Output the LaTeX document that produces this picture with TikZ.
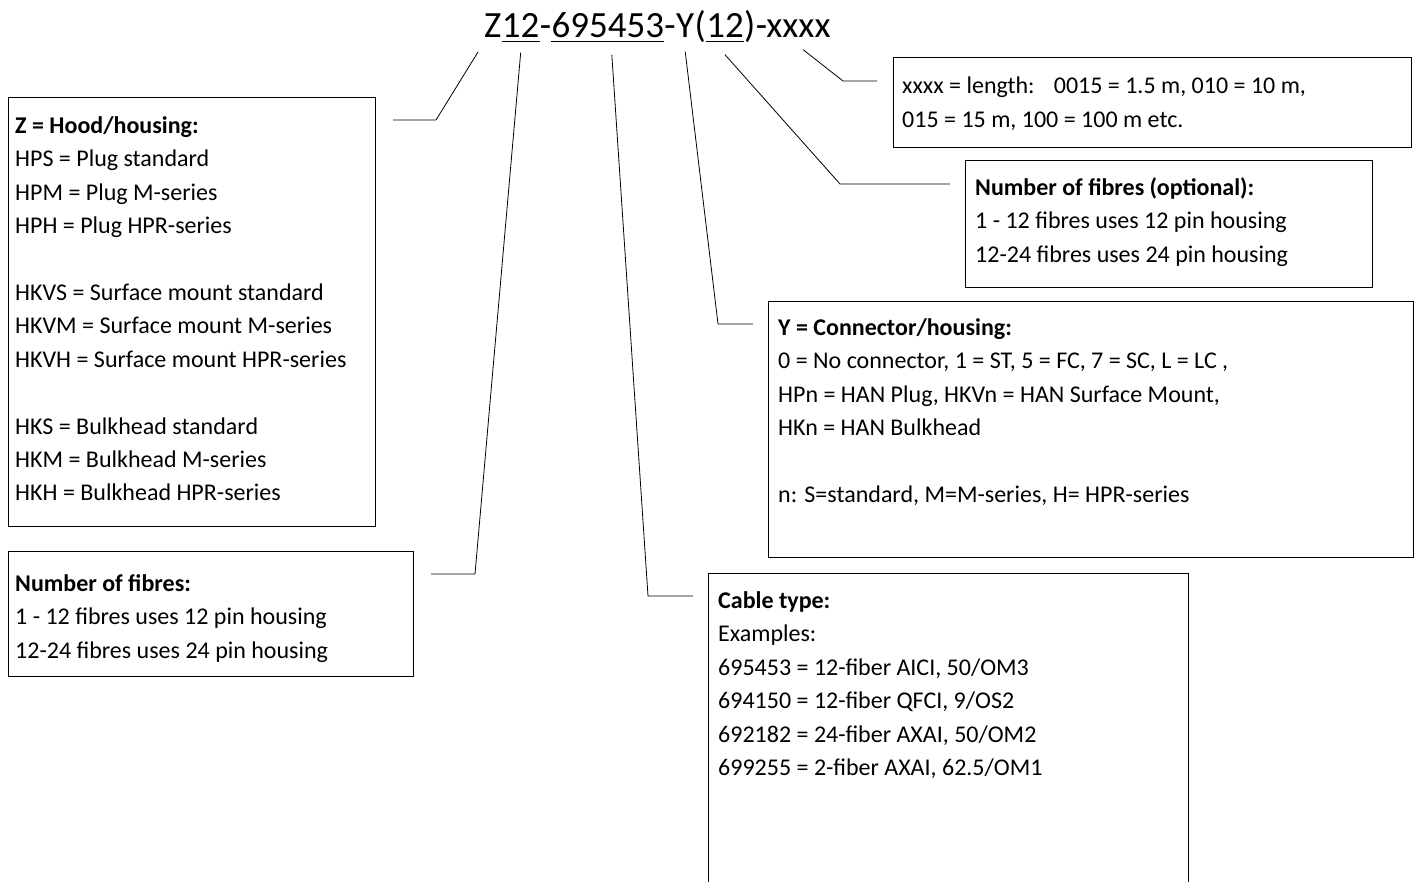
\documentclass[tikz,border=0pt]{standalone}
\usepackage{fontspec}
\setmainfont{Carlito}
\usetikzlibrary{calc}

\begin{document}
\begin{tikzpicture}[x=1pt,y=-1pt,
	code/.style={inner sep=0pt,anchor=base west,font=\fontsize{37}{40}\selectfont},
	infobox/.style={draw,line width=1pt,anchor=north west,inner sep=0pt},
	infotext/.style={inner sep=0pt,anchor=north west,align=left,font=\fontsize{24}{33.4}\selectfont,
		execute at begin node=\rule{0pt}{20pt}},
	lead/.style={line width=0.8pt},
	uline/.style={line width=1.8pt}]
	\useasboundingbox (0,0) rectangle (1418,881);
	% the code, one node per part
	\node[code] (cz) at (484,37.5) {Z};
	\node[code] (c12) at (cz.base east) {12};
	\node[code] (cd1) at (c12.base east) {-};
	\node[code] (ccab) at (cd1.base east) {695453};
	\node[code] (cd2) at (ccab.base east) {-};
	\node[code] (cy) at (cd2.base east) {Y};
	\node[code] (cpl) at (cy.base east) {(};
	\node[code] (c12b) at (cpl.base east) {12};
	\node[code] (cpr) at (c12b.base east) {)};
	\node[code] (clen) at (cpr.base east) {-xxxx};
	\foreach \part in {c12,ccab,c12b}
		\draw[uline] ([yshift=-4pt]\part.base west) -- ([yshift=-4pt]\part.base east);
	% boxes
	\node[infobox,minimum width=367pt,minimum height=429pt] (zbox) at (8,97) {};
	\node[infobox,minimum width=405pt,minimum height=125pt] (fbox) at (8,551) {};
	\node[infobox,minimum width=518pt,minimum height=90pt] (lbox) at (893,57) {};
	\node[infobox,minimum width=407pt,minimum height=127pt] (obox) at (965,160) {};
	\node[infobox,minimum width=645pt,minimum height=256pt] (ybox) at (768,301) {};
	\node[infobox,minimum width=480pt,minimum height=320pt] (cbox) at (708,573) {};
	% texts (first baseline 20pt below the node top)
	\node[infotext] (ztext) at (15,116.5) {\textbf{Z = Hood/housing:}\\HPS = Plug standard\\HPM = Plug M-series\\HPH = Plug HPR-series\\[33.4pt]
		HKVS = Surface mount standard\\HKVM = Surface mount M-series\\HKVH = Surface mount HPR-series\\[33.4pt]
		HKS = Bulkhead standard\\HKM = Bulkhead M-series\\HKH = Bulkhead HPR-series};
	\node[infotext] (ftext) at (15,574.5) {\textbf{Number of fibres:}\\1 - 12 fibres uses 12 pin housing\\12-24 fibres uses 24 pin housing};
	\node[infotext] (ltext) at (902,77) {xxxx = length:\hspace{0.8em}0015 = 1.5 m, 010 = 10 m,\\015 = 15 m, 100 = 100 m etc.};
	\node[infotext] (otext) at (975,177.5) {\textbf{Number of fibres (optional):}\\1 - 12 fibres uses 12 pin housing\\12-24 fibres uses 24 pin housing};
	\node[infotext] (ytext) at (778,318.5) {\textbf{Y = Connector/housing:}\\0 = No connector, 1 = ST, 5 = FC, 7 = SC, L = LC ,\\HPn = HAN Plug, HKVn = HAN Surface Mount,\\HKn = HAN Bulkhead\\[33.4pt]
		n: S=standard, M=M-series, H= HPR-series};
	\node[infotext] (ctext) at (718,591.5) {\textbf{Cable type:}\\Examples:\\695453 = 12-fiber AICI, 50/OM3\\694150 = 12-fiber QFCI, 9/OS2\\692182 = 24-fiber AXAI, 50/OM2\\699255 = 2-fiber AXAI, 62.5/OM1};
	% leader lines
	\coordinate (zend) at ($(zbox.north east)+(17,23)$);
	\coordinate (fend) at ($(fbox.north east)+(17,23)$);
	\coordinate (cend) at ($(cbox.north west)+(-15,23)$);
	\coordinate (yend) at ($(ybox.north west)+(-15,23)$);
	\coordinate (oend) at ($(obox.north west)+(-15,24)$);
	\coordinate (lend) at ($(lbox.north west)+(-16,24)$);
	\draw[lead] ([xshift=-6pt,yshift=-14.5pt]cz.base west) -- ($(zend)+(43,0)$) -- (zend);
	\draw[lead] ([yshift=-15pt]c12.south) -- ($(fend)+(44,0)$) -- (fend);
	\draw[lead] ([xshift=4pt,yshift=-17pt]ccab.south) -- ($(cend)+(-45,0)$) -- (cend);
	\draw[lead] ([yshift=-14pt]cy.south) -- ($(yend)+(-35,0)$) -- (yend);
	\draw[lead] ([yshift=-17pt]c12b.south) -- ($(oend)+(-110,0)$) -- (oend);
	\draw[lead] ([xshift=10pt,yshift=-12pt]clen.south) -- ($(lend)+(-34,0)$) -- (lend);
\end{tikzpicture}
\end{document}
